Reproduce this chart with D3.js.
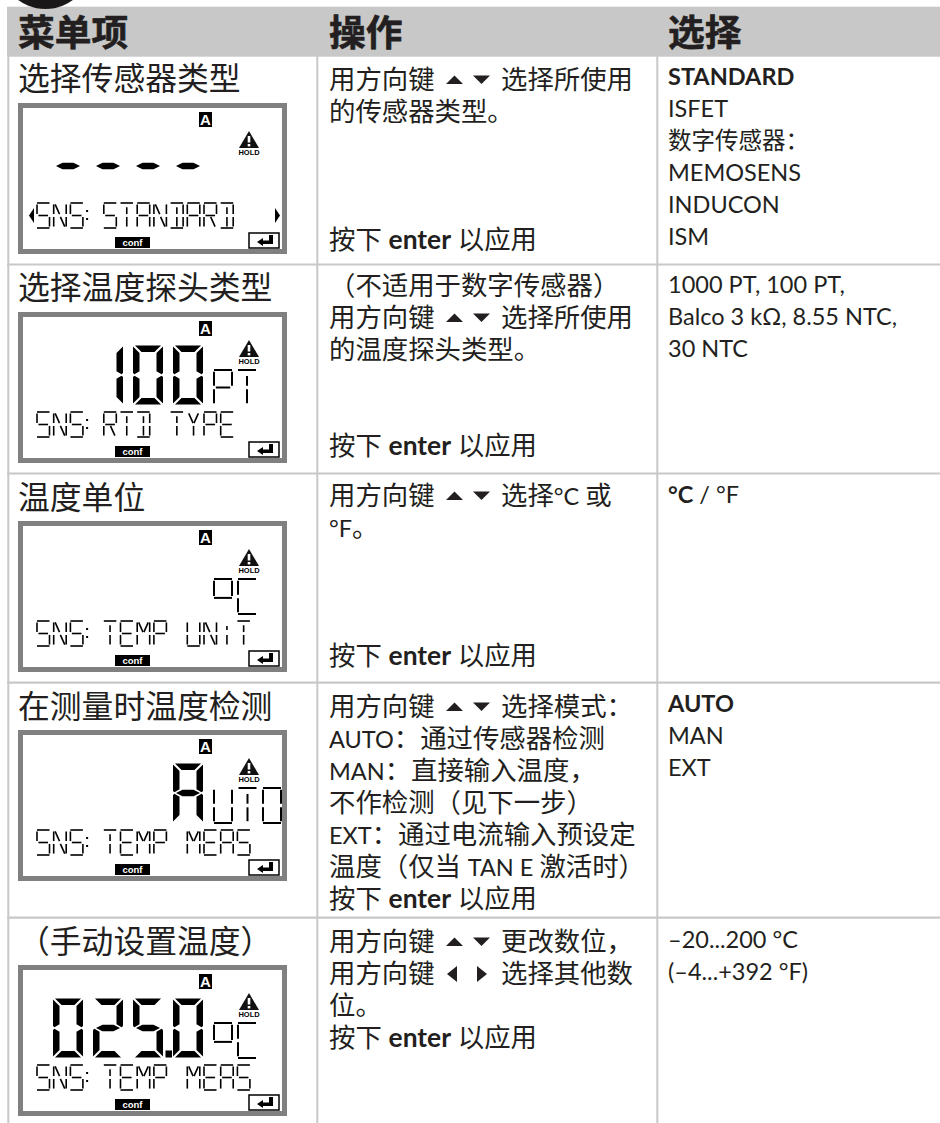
<!DOCTYPE html>
<html>
<head>
<meta charset="utf-8">
<script src="https://cdn.jsdelivr.net/npm/d3@7"></script>
<style>
  html, body { margin: 0; padding: 0; background: #fff; }
  svg { display: block; }
  text { font-family: Lato, "Noto Sans CJK SC", sans-serif; fill: #231f20; }
</style>
</head>
<body>
<svg id="canvas"></svg>
<script>
// Table content
let headers = ["菜单项", "操作", "选择"]
let rowTitles = ["选择传感器类型", "选择温度探头类型", "温度单位", "在测量时温度检测", "\uFF08手动设置温度\uFF09"]

// {ud} and {lr} stand for the little arrow key icons, ** for bold
let actionLines = [
  ["用方向键 {ud} 选择所使用", "的传感器类型。", "", "", "", "按下 **enter** 以应用"],
  ["\uFF08不适用于数字传感器\uFF09", "用方向键 {ud} 选择所使用", "的温度探头类型。", "", "", "按下 **enter** 以应用"],
  ["用方向键 {ud} 选择°C 或", "°F。", "", "", "", "按下 **enter** 以应用"],
  ["用方向键 {ud} 选择模式\uFF1A", "AUTO\uFF1A通过传感器检测", "MAN\uFF1A直接输入温度\uFF0C", "不作检测\uFF08见下一步\uFF09", "EXT\uFF1A通过电流输入预设定", "温度\uFF08仅当 TAN E 激活时\uFF09", "按下 **enter** 以应用"],
  ["用方向键 {ud} 更改数位\uFF0C", "用方向键 {lr} 选择其他数", "位。", "按下 **enter** 以应用"]
]
let choiceLines = [
  ["**STANDARD**", "ISFET", "数字传感器\uFF1A", "MEMOSENS", "INDUCON", "ISM"],
  ["1000 PT, 100 PT,", "Balco 3 kΩ, 8.55 NTC,", "30 NTC"],
  ["**°C** / °F"],
  ["**AUTO**", "MAN", "EXT"],
  ["–20...200 °C", "(–4...+392 °F)"]
]

// What each LCD shows
let lcdBig = ["----", " 100", "", "   A", "025.0"]
let lcdUnit = ["", "PT", "oC", "UTO", "oC"]
let lcdLine = ["SNS:STANDARD", "SNS:RTD TYPE", "SNS:TEMP UNIT", "SNS:TEMP MEAS", "SNS:TEMP MEAS"]
let lcdSideArrows = [true, false, false, false, false]

// Layout
let width = 940, height = 1123
let colX = [9, 318, 658]
let textX = [18, 329, 668]
let rowLines = [264.5, 473.5, 682.7, 917.7]
let lcdTop = [103, 312, 521, 730, 965]
let titleBase = [90, 299, 509, 718, 953]
let actionBase = [89, 295, 505, 716, 951]
let choiceBase = [85, 293, 503, 712, 948]
let lcdX = 18, lcdW = 269, lcdH = 151
let linePitch = 32
let latinSize = 23.5
let grey = "#c8c8c8", ink = "#000"

let canvas = d3.select("#canvas").attr("width", width).attr("height", height)
let line = d3.line()

// segments of the thin LCD letters: a top, b c right, d bottom, e f left, g middle,
// i l centre stem, h j upper diagonals, k m lower diagonals
let letters = {
  S: "afgcd", N: "febchm", T: "ail", A: "abcefg", D: "abcdil", R: "abefgm", M: "febchj",
  E: "afegd", P: "abefg", U: "bcdef", I: "il", Y: "hjl", O: "abcdef", C: "afed", o: "abfg"
}
let bigDigits = {
  "0": "abcdef", "1": "bc", "2": "abged", "5": "afgcd", "A": "abcefg", "-": "g"
}

let drawLetter = (g, ch, x, y, w, h, sw) => {
  let m = ch == "o" ? h * 0.27 : h / 2
  let bottom = ch == "o" ? h * 0.54 : h
  let pad = sw * 0.9
  let segs = {
    a: [[0, 0], [w, 0]],
    b: [[w, pad], [w, m - pad]],
    c: [[w, m + pad], [w, h - pad]],
    d: [[0, h], [w, h]],
    e: [[0, m + pad], [0, h - pad]],
    f: [[0, pad], [0, m - pad]],
    g: [[pad, m], [w - pad, m]],
    i: [[w / 2, h * 0.17], [w / 2, m - pad]],
    l: [[w / 2, m + pad], [w / 2, h - pad]],
    h: [[pad, pad], [w / 2 - pad * 0.3, m - pad]],
    j: [[w - pad, pad], [w / 2 + pad * 0.3, m - pad]],
    m: [[w / 2 + pad * 0.3, m + pad], [w - pad, h - pad]]
  }
  if (ch == "o") { segs.g = [[0, bottom], [w, bottom]]; segs.b = [[w, pad], [w, bottom - pad]]; segs.f = [[0, pad], [0, bottom - pad]] }
  if (ch == "I") segs.i = [[w / 2, h * 0.2], [w / 2, h * 0.36]]
  g.selectAll(null).data(letters[ch].split("")).enter().append("path")
    .attr("transform", `translate(${x},${y})`)
    .attr("d", s => line(segs[s]))
    .attr("fill", "none").attr("stroke", ink).attr("stroke-width", sw)
}

let drawDigit = (g, ch, x, y, w, h, t) => {
  let m = h / 2, e = 1
  let segs = {
    a: [[e + 1, 0], [w - e - 1, 0], [w - e - 1 - t, t], [e + 1 + t, t]],
    d: [[e + 1, h], [w - e - 1, h], [w - e - 1 - t, h - t], [e + 1 + t, h - t]],
    f: [[0, e], [t, e + t], [t, m - t / 2 - 0.5], [1.5, m - 0.8], [0, m - 2]],
    b: [[w, e], [w - t, e + t], [w - t, m - t / 2 - 0.5], [w - 1.5, m - 0.8], [w, m - 2]],
    e: [[0, h - e], [t, h - e - t], [t, m + t / 2 + 0.5], [1.5, m + 0.8], [0, m + 2]],
    c: [[w, h - e], [w - t, h - e - t], [w - t, m + t / 2 + 0.5], [w - 1.5, m + 0.8], [w, m + 2]],
    g: [[3, m], [3 + t, m - t / 2], [w - 3 - t, m - t / 2], [w - 3, m], [w - 3 - t, m + t / 2], [3 + t, m + t / 2]]
  }
  g.selectAll(null).data(bigDigits[ch].split("")).enter().append("path")
    .attr("transform", `translate(${x},${y})`)
    .attr("d", s => line(segs[s]) + "Z")
    .attr("fill", ink)
}

let drawLcd = (row) => {
  let g = canvas.append("g").attr("class", "lcd")
                .attr("transform", `translate(${lcdX},${lcdTop[row]})`)

  g.append("rect").attr("x", 2.5).attr("y", 2.5)
   .attr("width", lcdW - 5).attr("height", lcdH - 5)
   .attr("fill", "#fff").attr("stroke", "#808080").attr("stroke-width", 5)

  // channel badge
  g.append("rect").attr("x", 181).attr("y", 9).attr("width", 13).attr("height", 15).attr("fill", "#000")
  g.append("text").attr("x", 187.5).attr("y", 22).attr("text-anchor", "middle")
   .style("font-family", "'Liberation Sans'").style("font-weight", 700).style("font-size", "15px")
   .style("fill", "#fff").text("A")

  // warning triangle
  g.append("path").attr("d", line([[231, 28], [241, 45], [221, 45]]) + "Z").attr("fill", "#111")
  g.append("rect").attr("x", 229.7).attr("y", 33).attr("width", 2.6).attr("height", 6.5).attr("fill", "#fff")
  g.append("rect").attr("x", 229.7).attr("y", 41).attr("width", 2.6).attr("height", 2.4).attr("fill", "#fff")
  g.append("text").attr("x", 231).attr("y", 52).attr("text-anchor", "middle")
   .style("font-family", "'Liberation Sans'").style("font-weight", 700).style("font-size", "7.5px")
   .style("fill", "#000").text("HOLD")

  // conf tag
  g.append("rect").attr("x", 97).attr("y", 134).attr("width", 35).attr("height", 11).attr("fill", "#000")
  g.append("text").attr("x", 114.5).attr("y", 143).attr("text-anchor", "middle")
   .style("font-family", "'Liberation Sans'").style("font-weight", 700).style("font-size", "9.5px")
   .style("fill", "#fff").text("conf")

  // enter key
  g.append("rect").attr("x", 231).attr("y", 130).attr("width", 30).attr("height", 15)
   .attr("fill", "#fff").attr("stroke", "#000").attr("stroke-width", 1.5)
  g.append("path")
   .attr("d", line([[239, 139], [245, 135], [245, 137.5], [251, 137.5], [251, 132], [255, 132], [255, 141], [245, 141], [245, 143]]) + "Z")
   .attr("fill", "#000")

  // big seven segment digits, the dot takes no cell
  let cell = 0
  lcdBig[row].split("").forEach(ch => {
    if (ch == ".") {
      g.append("rect").attr("x", 147.5).attr("y", 85.5).attr("width", 6.5).attr("height", 7).attr("fill", ink)
      return
    }
    if (ch != " ") drawDigit(g, ch, 35 + cell * 40, 33.5, 30, 59, 6.5)
    cell++
  })

  // smaller letters beside the digits
  let unit = lcdUnit[row]
  let unitPitch = unit.length == 3 ? 24.5 : 24
  unit.split("").forEach((ch, i) => drawLetter(g, ch, 196 + i * unitPitch, 58, 18, 35, 2))

  // bottom text line
  lcdLine[row].split("").forEach((ch, i) => {
    let x = 19 + i * 16.7
    if (ch == ":") {
      g.append("rect").attr("x", x - 1).attr("y", 107).attr("width", 2).attr("height", 2).attr("fill", ink)
      g.append("rect").attr("x", x - 1).attr("y", 115).attr("width", 2).attr("height", 2).attr("fill", ink)
    } else if (ch != " ") {
      drawLetter(g, ch, x, 100, 12.5, 25, 1.6)
    }
  })

  if (lcdSideArrows[row]) {
    g.append("path").attr("d", line([[16, 105], [16, 120], [11, 112.5]]) + "Z").attr("fill", "#000")
    g.append("path").attr("d", line([[257, 105], [257, 120], [262, 112.5]]) + "Z").attr("fill", "#000")
  }
}

let drawKeys = (kind, x, base) => {
  let tri = pts => canvas.append("path").attr("d", line(pts) + "Z").attr("fill", "#231f20")
  if (kind == "ud") {
    tri([[x + 117, base - 5], [x + 134, base - 5], [x + 125.5, base - 13.5]])
    tri([[x + 144, base - 13.5], [x + 161, base - 13.5], [x + 152.5, base - 5]])
  } else {
    tri([[x + 128, base - 17], [x + 128, base - 1], [x + 118, base - 9]])
    tri([[x + 148, base - 17], [x + 148, base - 1], [x + 158, base - 9]])
  }
}

let writeRich = (x, y, str, size) => {
  let t = canvas.append("text").attr("x", x).attr("y", y).style("font-size", size + "px").attr("xml:space", "preserve")
  str.split(/(\*\*.*?\*\*)/).filter(p => p).forEach(p => {
    if (p.startsWith("**")) {
      t.append("tspan").style("font-weight", 700).text(p.replace(/\*\*/g, ""))
      return
    }
    // the latin capitals run smaller than the chinese around them
    p.split(/(°?[A-Z][A-Z ]*)/).filter(q => q).forEach(q => {
      t.append("tspan").style("font-size", /^°?[A-Z]/.test(q) ? latinSize + "px" : null).text(q)
    })
  })
  return t
}

let writeLine = (x, y, str, size) => {
  let icon = str.match(/\{(ud|lr)\}/)
  if (!icon) { writeRich(x, y, str, size); return }
  let parts = str.split(icon[0])
  writeRich(x, y, parts[0].trim(), size)
  drawKeys(icon[1], x, y)
  writeRich(x + 172, y, parts[1].trim(), size)
}

// header band
canvas.append("rect").attr("x", 7).attr("y", 6.7).attr("width", width - 7).attr("height", 50).attr("fill", grey)
canvas.append("circle").attr("cx", 45.5).attr("cy", -37).attr("r", 46).attr("fill", "#1a1718")
canvas.selectAll(".head").data(headers).enter().append("text")
      .attr("class", "head").attr("x", (d, i) => textX[i]).attr("y", 46)
      .style("font-size", "36.7px").style("font-weight", 700)
      .style("stroke", "#231f20").style("stroke-width", 0.6).text(d => d)

// grid
canvas.selectAll(".vline").data(colX).enter().append("line").attr("class", "vline")
      .attr("x1", d => d - 0.7).attr("x2", d => d - 0.7).attr("y1", 56).attr("y2", height)
      .attr("stroke", grey).attr("stroke-width", 2)
canvas.selectAll(".hline").data(rowLines).enter().append("line").attr("class", "hline")
      .attr("x1", 7).attr("x2", width).attr("y1", d => d).attr("y2", d => d)
      .attr("stroke", grey).attr("stroke-width", 2.2)

rowTitles.forEach((title, row) => {
  canvas.append("text").attr("x", textX[0]).attr("y", titleBase[row]).style("font-size", "31.8px").text(title)
  drawLcd(row)
  actionLines[row].forEach((str, i) => {
    if (str) writeLine(textX[1], actionBase[row] + i * linePitch, str, 26.4)
  })
  choiceLines[row].forEach((str, i) => {
    writeLine(textX[2], choiceBase[row] + i * linePitch, str, 23.5)
  })
})
</script>
</body>
</html>
